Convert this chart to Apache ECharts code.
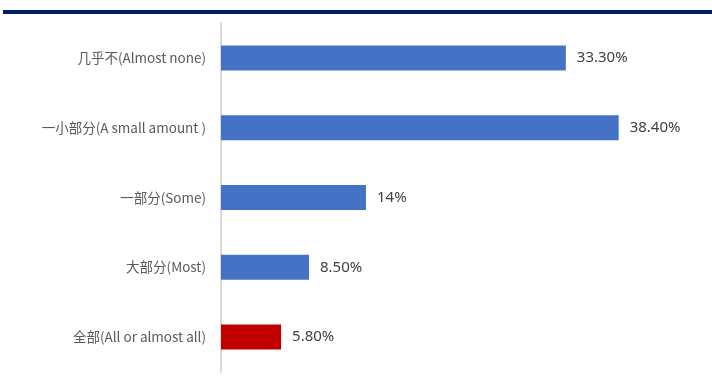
<!DOCTYPE html>
<html>
<head>
<meta charset="utf-8">
<script src="https://cdn.jsdelivr.net/npm/echarts@6/dist/echarts.min.js"></script>
<style>
  html, body { margin: 0; padding: 0; background: #fff; }
  #chart { width: 712px; height: 383px; }
</style>
</head>
<body>
<div id="chart"></div>
<script>
// 类别与数值 (从上到下)
const categories = ['几乎不(Almost none)', '一小部分(A small amount )', '一部分(Some)', '大部分(Most)', '全部(All or almost all)'];
const values = [33.3, 38.4, 14, 8.5, 5.8];
const valueLabels = ['33.30%', '38.40%', '14%', '8.50%', '5.80%'];
const barColors = ['#4472C4', '#4472C4', '#4472C4', '#4472C4', '#C00000'];

window.onload = function () {
    let chart = echarts.init(document.getElementById('chart'));
    let option = {
        animation: false,
        grid: { left: 221, right: 25, top: 23, bottom: 11, containLabel: false },
        graphic: [
            {
                type: 'rect',
                shape: { x: 3, y: 10, width: 709, height: 4 },
                style: { fill: '#002060' }
            }
        ],
        xAxis: {
            type: 'value',
            min: 0,
            max: 45,
            show: false
        },
        yAxis: {
            type: 'category',
            inverse: true,
            data: categories,
            axisLine: { show: true, lineStyle: { color: '#D9D9D9', width: 2 } },
            axisTick: { show: false },
            axisLabel: {
                margin: 15,
                fontSize: 13.5,
                color: '#595959',
                fontFamily: '"Liberation Sans Narrow", "Noto Sans CJK SC", sans-serif'
            }
        },
        series: [
            {
                type: 'bar',
                barWidth: 25,
                data: values.map((v, i) => ({ value: v, itemStyle: { color: barColors[i] } })),
                label: {
                    show: true,
                    position: 'right',
                    distance: 11,
                    fontSize: 15,
                    color: '#404040',
                    fontFamily: '"Liberation Sans Narrow", "Noto Sans", sans-serif',
                    formatter: (p) => valueLabels[p.dataIndex]
                }
            }
        ]
    };
    chart.setOption(option);
}
</script>
</body>
</html>
